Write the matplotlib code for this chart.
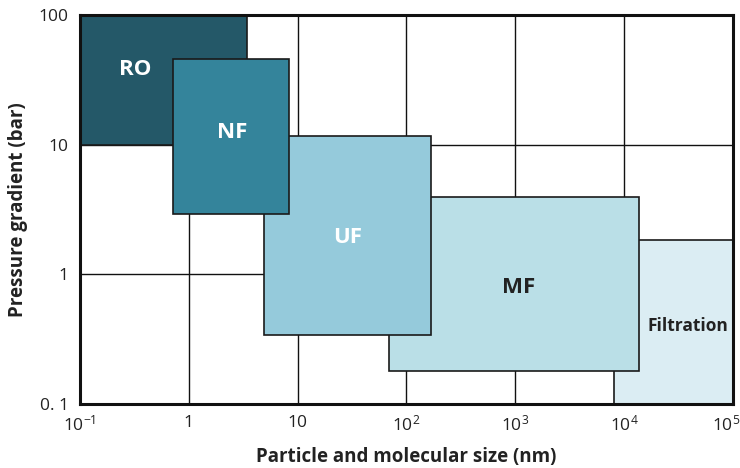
import matplotlib
matplotlib.use("Agg")
import matplotlib.pyplot as plt
import matplotlib.transforms as mtransforms
from matplotlib.patches import Rectangle

plt.rcParams['font.family'] = ['Open Sans', 'DejaVu Sans']

# process windows: size range (nm) and pressure range (bar)
processes = ["RO", "NF", "UF", "MF", "Filtration"]
size_low = [0.1, 0.71, 4.9, 69, 8100]
size_high = [3.45, 8.4, 167, 13700, 100000]
pressure_low = [10, 2.92, 0.34, 0.18, 0.1]
pressure_high = [100, 45.8, 11.7, 3.95, 1.84]
label_x = [0.32, 2.5, 29, 1084, 38700]
label_y = [37.7, 12.3, 1.91, 0.785, 0.40]

x_ticks = [0.1, 1, 10, 100, 1000, 10000, 100000]
x_tick_labels = [r"$\mathregular{10^{-1}}$", "1", "10", r"$\mathregular{10^{2}}$",
                 r"$\mathregular{10^{3}}$", r"$\mathregular{10^{4}}$",
                 r"$\mathregular{10^{5}}$"]
y_ticks = [0.1, 1, 10, 100]
y_tick_labels = ["0. 1", "1", "10", "100"]

fills = ["#245868", "#34849b", "#95cadb", "#badfe7", "#dbedf3"]
text_colors = ["white", "white", "white", "#222222", "#222222"]
text_sizes = [16, 16, 16, 16, 12.5]
z_order = [2, 5, 4, 3, 2]

fig = plt.figure(figsize=(7.4, 4.68), dpi=100)
ax = fig.add_axes([0.108, 0.137, 0.8825, 0.831])
ax.set_xscale("log")
ax.set_yscale("log")
ax.set_xlim(0.1, 1e5)
ax.set_ylim(0.1, 100)

# grid lines drawn by hand so they sit under the boxes
for gx in x_ticks[1:-1]:
    ax.axvline(gx, color="#111111", lw=1.0, zorder=1)
for gy in y_ticks[1:-1]:
    ax.axhline(gy, color="#111111", lw=1.0, zorder=1)

for i, name in enumerate(processes):
    rect = Rectangle((size_low[i], pressure_low[i]),
                     size_high[i] - size_low[i],
                     pressure_high[i] - pressure_low[i],
                     facecolor=fills[i], edgecolor="#1a1a1a", lw=1.2,
                     zorder=z_order[i])
    ax.add_patch(rect)
    ax.text(label_x[i], label_y[i], name, ha="center", va="center",
            color=text_colors[i], fontsize=text_sizes[i], fontweight="bold",
            zorder=10)

ax.set_xticks(x_ticks)
ax.set_xticklabels(x_tick_labels)
ax.set_yticks(y_ticks)
ax.set_yticklabels(y_tick_labels)
ax.minorticks_off()
ax.tick_params(length=0, labelsize=12.5, colors="#222222", pad=8)

# keep the last x label inside the figure
last = ax.get_xticklabels()[-1]
last.set_transform(last.get_transform() +
                   mtransforms.ScaledTranslation(-7 / 100, 0, fig.dpi_scale_trans))

for s in ax.spines.values():
    s.set_linewidth(2.2)
    s.set_color("#111111")
    s.set_zorder(11)

ax.set_xlabel("Particle and molecular size (nm)", fontsize=13.5,
              fontweight="bold", color="#222222", labelpad=9)
ax.set_ylabel("Pressure gradient (bar)", fontsize=13.5,
              fontweight="bold", color="#222222", labelpad=8)

fig.savefig("out.png", dpi=100)
